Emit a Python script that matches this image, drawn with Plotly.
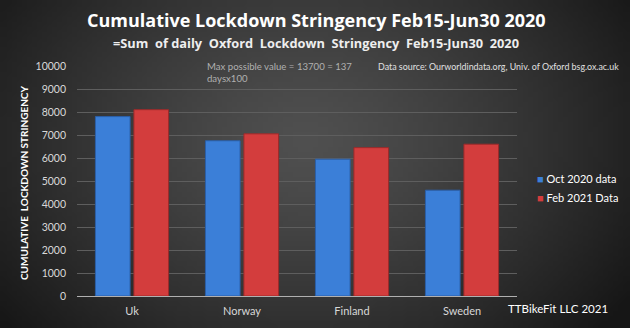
import base64, struct, zlib
import numpy as np
import plotly.graph_objects as go

countries = ["Uk", "Norway", "Finland", "Sweden"]
oct_2020 = [7800, 6750, 5950, 4600]
feb_2021 = [8100, 7050, 6450, 6600]
y_ticks = list(range(0, 10001, 1000))
y_tick_labels = [str(v) for v in y_ticks]
series_names = ["Oct 2020 data", "Feb 2021 Data"]
series_colors = ["#3b7fd8", "#d33d3d"]
edge_colors = ["#2a5fa8", "#9e2a2a"]

# ---- radial background gradient as a small PNG ----
W, H = 126, 66
yy, xx = np.mgrid[0:H, 0:W]
cx, cy = 0.48 * W, 0.42 * H
d = np.sqrt(((xx - cx) / (W * 0.62)) ** 2 + ((yy - cy) / (H * 0.9)) ** 2)
d = np.clip(d, 0, 1)
val = (80 - (80 - 22) * d ** 1.3).astype(np.uint8)
raw = b"".join(b"\x00" + bytes(np.repeat(val[r], 3).tolist()) for r in range(H))
def chunk(t, data):
    c = struct.pack(">I", len(data)) + t + data
    return c + struct.pack(">I", zlib.crc32(t + data) & 0xffffffff)
png = b"\x89PNG\r\n\x1a\n" + chunk(b"IHDR", struct.pack(">IIBBBBB", W, H, 8, 2, 0, 0, 0)) \
    + chunk(b"IDAT", zlib.compress(raw)) + chunk(b"IEND", b"")
bg_uri = "data:image/png;base64," + base64.b64encode(png).decode()

L, R, T, B = 77, 113, 66, 32
PW, PH = 630 - L - R, 328 - T - B
def px(x): return (x - L) / PW
def py(y): return (328 - B - y) / PH

FONT = "Lato"
fig = go.Figure()
for vals, name, col, edge in zip([oct_2020, feb_2021], series_names, series_colors, edge_colors):
    fig.add_trace(go.Bar(x=countries, y=vals, name=name, showlegend=False,
                         marker=dict(color=col, line=dict(color=edge, width=1))))
# legend entries: small coloured squares next to the labels
for name, col in zip(series_names, series_colors):
    fig.add_trace(go.Scatter(x=[None], y=[None], mode="markers",
                             name=f"<span style='color:{col}'>■</span> {name}",
                             marker=dict(size=1, color="rgba(0,0,0,0)")))

fig.update_layout(
    width=630, height=328,
    margin=dict(l=L, r=R, t=T, b=B, autoexpand=False),
    paper_bgcolor="#333333", plot_bgcolor="rgba(0,0,0,0)",
    font=dict(family=FONT, color="#d8d8d8", size=12),
    barmode="group", bargap=0.3, bargroupgap=0.1,
    showlegend=True,
    legend=dict(x=px(497), y=py(188.5), xanchor="left", yanchor="middle",
                bgcolor="rgba(0,0,0,0)", font=dict(size=11, color="#ffffff"),
                itemwidth=30, tracegroupgap=4),
    images=[dict(source=bg_uri, xref="paper", yref="paper", x=px(0), y=py(0),
                 sizex=630 / PW, sizey=328 / PH, xanchor="left", yanchor="top",
                 sizing="stretch", layer="below")],
)
fig.update_xaxes(showgrid=False, showline=False, ticks="", tickfont=dict(size=11, color="#d8d8d8"),
                 zeroline=False, ticklabelstandoff=7)
fig.update_yaxes(range=[0, 10000], tickvals=y_ticks, ticktext=y_tick_labels,
                 showgrid=True, gridcolor="#5e5e5e",
                 gridwidth=1, zeroline=True, zerolinecolor="#b0b0b0", zerolinewidth=1,
                 showline=False, ticks="", ticklabelstandoff=10,
                 tickfont=dict(size=10.5, color="#d8d8d8"))

ann = [
    dict(text="<b>Cumulative Lockdown Stringency Feb15-Jun30 2020</b>", x=px(316), y=py(20),
         font=dict(size=18, color="#ffffff", family="Open Sans")),
    dict(text="<b>=Sum  of daily  Oxford  Lockdown  Stringency  Feb15-Jun30  2020</b>",
         x=px(316), y=py(42.5), font=dict(size=12.8, color="#eeeeee", family="Open Sans")),
    dict(text="Max possible value = 13700 = 137<br>daysx100", x=px(205), y=py(59),
         xanchor="left", yanchor="top", align="left", font=dict(size=9.6, color="#b0b0b0")),
    dict(text="Data source: Ourworldindata.org, Univ. of Oxford bsg.ox.ac.uk", x=px(376), y=py(66),
         xanchor="left", font=dict(size=8.9, color="#e0e0e0")),
    dict(text="TTBikeFit LLC 2021", x=px(506), y=py(308), xanchor="left",
         font=dict(size=11.5, color="#ffffff")),
    dict(text="<b>CUMULATIVE  LOCKDOWN STRINGENCY</b>", x=px(24), y=py(183), textangle=-90,
         font=dict(size=10, color="#ffffff")),
]
for a in ann:
    a.setdefault("xanchor", "center")
    a.setdefault("yanchor", "middle")
    fig.add_annotation(xref="paper", yref="paper", showarrow=False, **a)

fig.write_html("out.html")
